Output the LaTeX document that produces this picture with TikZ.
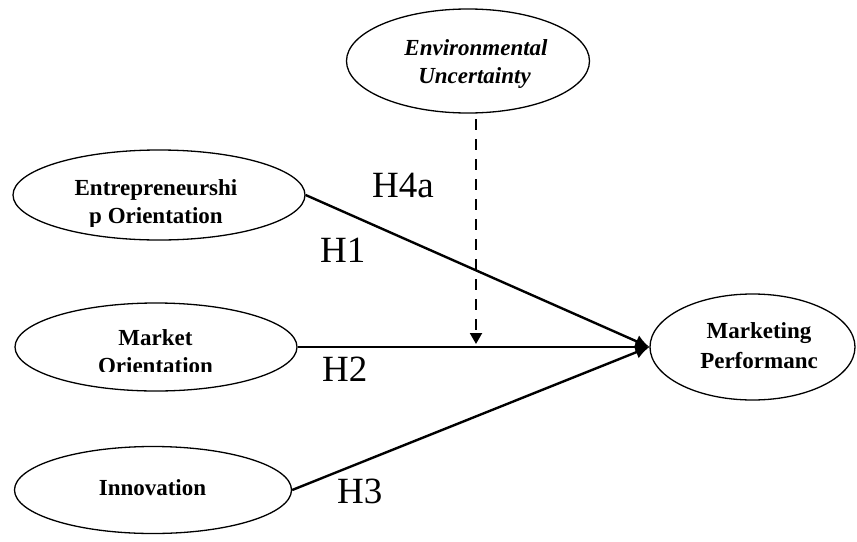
\documentclass[tikz,border=0pt]{standalone}
\usepackage{fontspec}
\setmainfont{Liberation Serif}
\usetikzlibrary{shapes.geometric,arrows.meta}

\begin{document}
\begin{tikzpicture}[x=1pt,y=-1pt,
  construct/.style={draw=black,line width=1.3pt,ellipse,inner sep=0pt},
  nodetext/.style={font=\fontsize{23}{26}\selectfont\bfseries,anchor=base,inner sep=0pt},
  hyp/.style={font=\fontsize{37}{40}\selectfont,anchor=base west,inner sep=0pt},
  path/.style={line width=2.4pt,-{Latex[length=14pt,width=13pt]}},
  moderation/.style={line width=2pt,dash pattern=on 11pt off 9pt,-{Triangle[length=11pt,width=12pt]}}]

  \useasboundingbox (0,0) rectangle (857,541);

  % latent constructs
  \node[construct,minimum width=292pt,minimum height=90pt] (EO) at (159,195) {};
  \node[construct,minimum width=282pt,minimum height=88pt] (MO) at (156,347) {};
  \node[construct,minimum width=277pt,minimum height=87pt] (IN) at (153,490) {};
  \node[construct,minimum width=243pt,minimum height=104pt] (EU) at (468,61) {};
  \node[construct,minimum width=205pt,minimum height=106pt] (MP) at (752.5,347) {};

  % construct labels (text boxes cut off at their lower edge)
  \begin{scope}
    \clip (20,160) rectangle (300,226);
    \node[nodetext] (EOa) at (156,195) {Entrepreneurshi};
    \node[nodetext] (EOb) at (156,223) {p Orientation};
  \end{scope}
  \begin{scope}
    \clip (20,310) rectangle (300,371);
    \node[nodetext] (MOa) at (155.5,345) {Market};
    \node[nodetext] (MOb) at (155.5,373) {Orientation};
  \end{scope}
  \node[nodetext] (INa) at (152.5,495) {Innovation};
  \node[nodetext,font=\fontsize{23}{26}\selectfont\bfseries\itshape] (EUa) at (476,55) {Environmental};
  \node[nodetext,font=\fontsize{23}{26}\selectfont\bfseries\itshape] (EUb) at (474.5,83) {Uncertainty};
  \node[nodetext] (MPa) at (759,338) {Marketing};
  \node[nodetext] (MPb) at (759,368) {Performanc};

  % direct effects
  \draw[path] (EO.east) -- (MP.west);
  \draw[path] (MO.east) -- (MP.west);
  \draw[path] (IN.east) -- (MP.west);

  % moderating effect onto the H2 path
  \coordinate (modtop) at (476,119);
  \coordinate (modend) at (476,344);
  \draw[moderation] (modtop) -- (modend);

  % hypothesis labels
  \node[hyp] (H4a) at (372,197) {H4a};
  \node[hyp] (H1) at (320,262) {H1};
  \node[hyp] (H2) at (322,381) {H2};
  \node[hyp] (H3) at (337,503) {H3};
\end{tikzpicture}
\end{document}
